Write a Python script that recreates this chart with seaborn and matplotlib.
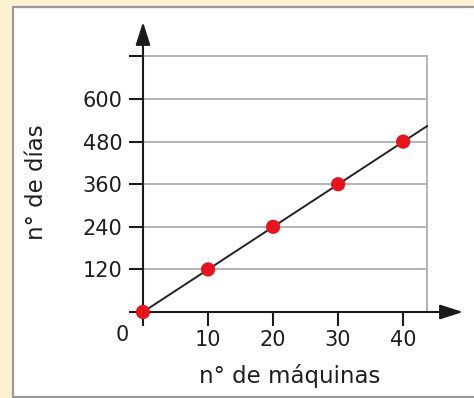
import matplotlib
matplotlib.use('Agg')
import matplotlib.pyplot as plt
import seaborn as sns
import pandas as pd
from matplotlib.patches import Rectangle

# data
maquinas = [0, 10, 20, 30, 40]
dias = [0, 120, 240, 360, 480]
line_x = [0, 43.7]
line_y = [0, 524]
x_ticks = [0, 10, 20, 30, 40]
x_labels = ['', '10', '20', '30', '40']
y_ticks = [0, 120, 240, 360, 480, 600, 720]
y_labels = ['', '120', '240', '360', '480', '600', '']

sns.set_style('white')
plt.rcParams['font.family'] = ['DejaVu Sans']

W, H = 474, 398
fig = plt.figure(figsize=(W / 100, H / 100), dpi=100, facecolor='#FEF0D2')
fig.patches.append(Rectangle((13 / W, 1 - 397 / H), 1, (397 - 7) / H,
                             transform=fig.transFigure, facecolor='white',
                             edgecolor='#9a9a9a', linewidth=1.6, zorder=-10))

ax = fig.add_axes([143 / W, 1 - 312 / H, 320 / W, 290 / H])
ax.patch.set_alpha(0)
ax.set_xlim(0, 49.2)
ax.set_ylim(0, 817)

# grid
for yv in y_ticks[1:]:
    ax.plot([0, 43.7], [yv, yv], color='#b2b2ba', lw=1.4, zorder=1)
ax.plot([43.7, 43.7], [0, 720], color='#b2b2ba', lw=1.4, zorder=1)

df = pd.DataFrame({'maquinas': maquinas, 'dias': dias})
sns.lineplot(x=line_x, y=line_y, ax=ax, color='#222222', lw=1.4, zorder=3)
sns.scatterplot(data=df, x='maquinas', y='dias', ax=ax, color='#e8141b',
                s=105, edgecolor='none', zorder=4, clip_on=False)

for s in ax.spines.values():
    s.set_visible(False)

# axes with arrows
arrow = dict(arrowstyle='-|>,head_length=1.0,head_width=0.32',
             color='#1a1a1a', lw=1.5, shrinkA=0, shrinkB=0, mutation_scale=14)
ax.annotate('', xy=(1, 0), xytext=(0, 0), xycoords='axes fraction',
            arrowprops=arrow, zorder=2)
ax.annotate('', xy=(0, 1), xytext=(0, 0), xycoords='axes fraction',
            arrowprops=arrow, zorder=2)

ax.set_xticks(x_ticks, x_labels)
ax.set_yticks(y_ticks, y_labels)
ax.tick_params(axis='both', direction='out', length=10, width=1.5,
               color='#1a1a1a', labelsize=15, labelcolor='#1e1e1e',
               left=True, bottom=True)
ax.tick_params(axis='y', pad=5)
ax.tick_params(axis='x', pad=3)
ax.text(-3.2, -65, '0', fontsize=15, color='#1e1e1e', ha='center', va='center')

ax.set_xlabel('n° de máquinas', fontsize=16.5, color='#1e1e1e')
ax.set_ylabel('n° de días', fontsize=16.5, color='#1e1e1e')
ax.xaxis.label.set_va('center')
ax.yaxis.label.set_va('center')
ax.xaxis.set_label_coords(0.459, -0.221)
ax.yaxis.set_label_coords(-0.334, 0.448)

fig.savefig('out.png', dpi=100, facecolor=fig.get_facecolor())
